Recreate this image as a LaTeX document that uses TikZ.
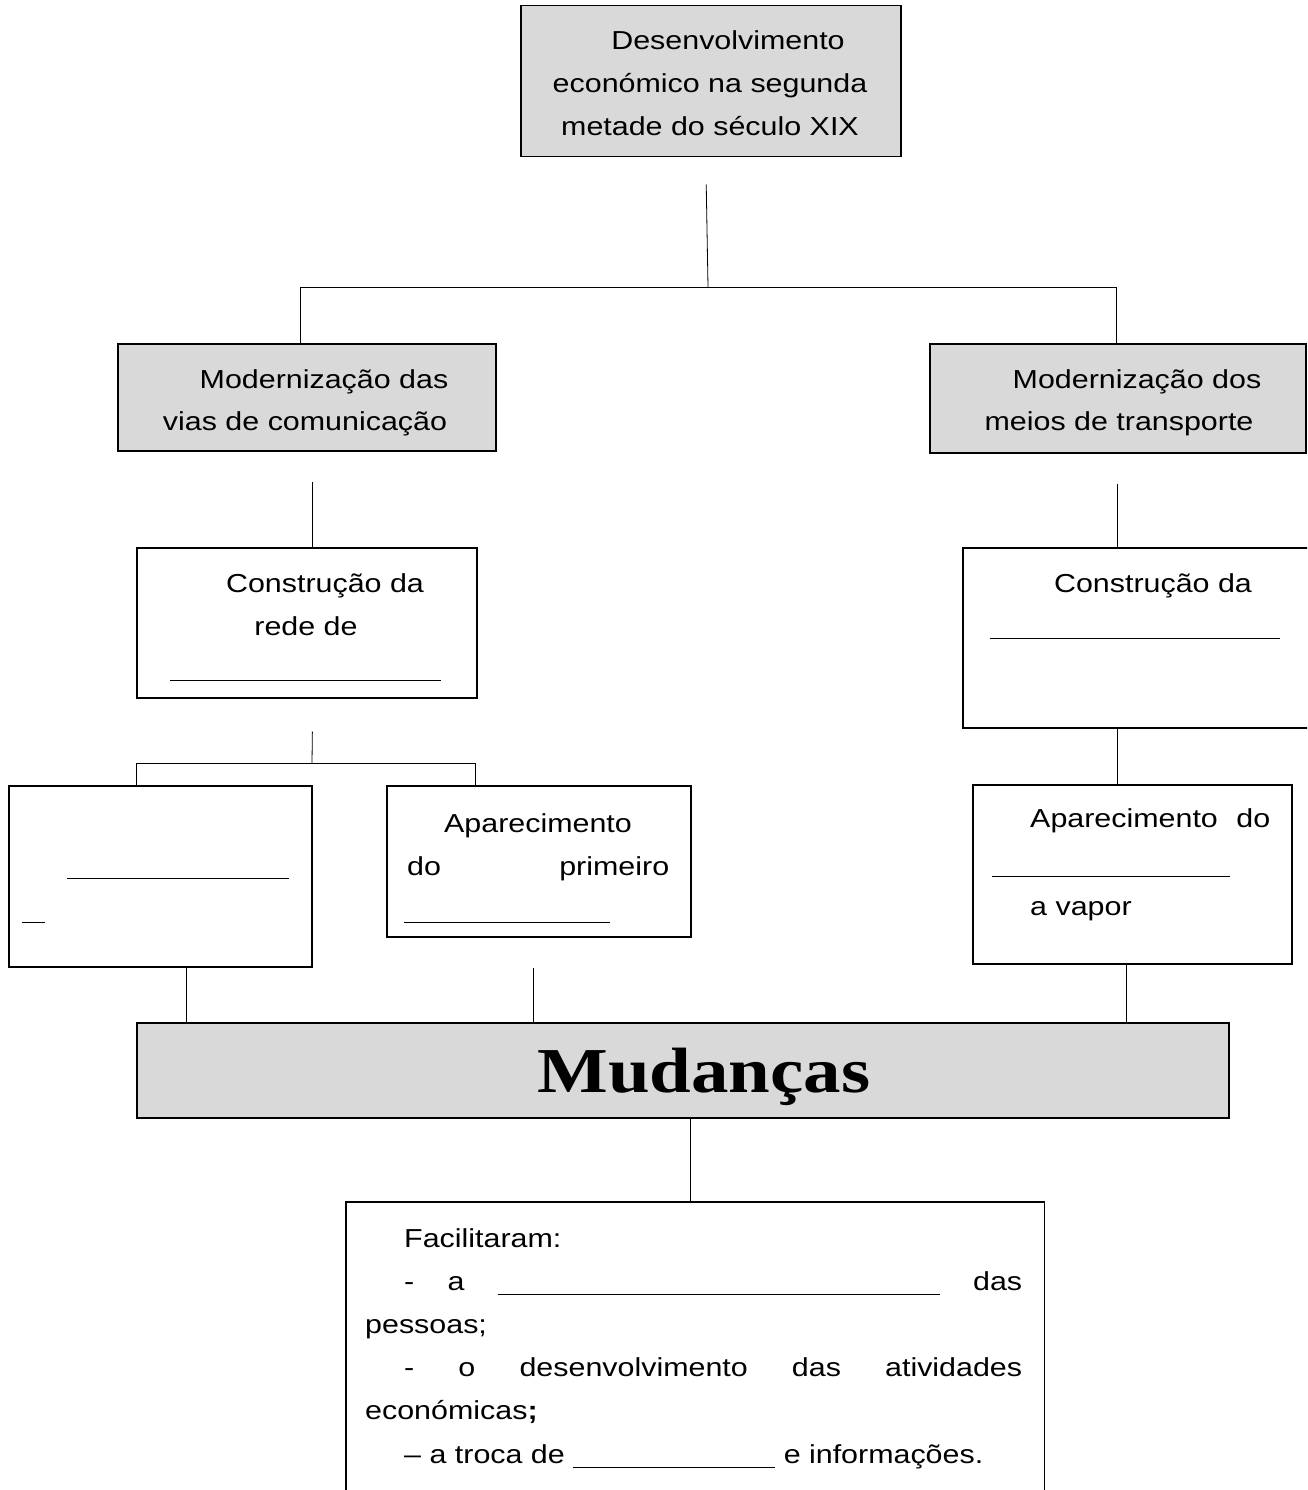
\documentclass[tikz,border=0pt]{standalone}
\usepackage{fontspec}
\setmainfont[FakeStretch=1.17]{Liberation Sans}
\newfontfamily\bigserif[FakeStretch=1.17]{Liberation Serif}
\usetikzlibrary{positioning}

\definecolor{boxgray}{HTML}{D9D9D9}
\newcommand{\blank}[1]{\rule[-5pt]{#1}{1.3pt}}

\tikzset{
  box/.style={draw, line width=1.5pt, inner sep=0pt, anchor=north west},
  graybox/.style={box, fill=boxgray},
  link/.style={line width=0.8pt},
  txt/.style={inner sep=0pt, anchor=base, font=\fontsize{26pt}{42pt}\selectfont},
  txtl/.style={txt, anchor=base west},
}

\begin{document}
\begin{tikzpicture}[x=1pt,y=-1pt]
\useasboundingbox (0,0) rectangle (1307,1490);
\clip (0,0) rectangle (1307,1490);

% boxes
\node[graybox, minimum width=380pt, minimum height=151pt] (top) at (520,5) {};
\node[graybox, minimum width=378pt, minimum height=107pt] (vias) at (117,343) {};
\node[graybox, minimum width=376pt, minimum height=109pt] (meios) at (929,343) {};
\node[box, minimum width=340pt, minimum height=150pt] (rede) at (136,547) {};
\node[box, minimum width=360pt, minimum height=180pt] (ferro) at (962,547) {};
\node[box, minimum width=303pt, minimum height=181pt] (estradas) at (8,785) {};
\node[box, minimum width=304pt, minimum height=151pt] (comboio) at (386,785) {};
\node[box, minimum width=319pt, minimum height=179pt] (barco) at (972,784) {};
\node[graybox, minimum width=1092pt, minimum height=95pt] (mud) at (136,1022) {};
\node[inner sep=0pt, minimum width=698pt, minimum height=300pt, anchor=north west] (facil) at (346,1202) {};
\draw[line width=1.5pt] (facil.south west) -- (facil.north west) -- (facil.north east) -- (facil.south east);

% texts
\node[txt] (topa) at (728,50) {Desenvolvimento};
\node[txt] (topb) at (710,93) {económico na segunda};
\node[txt] (topc) at (710,136) {metade do século XIX};

\node[txt] (viasa) at (324,388) {Modernização das};
\node[txt] (viasb) at (305,430) {vias de comunicação};
\node[txt] (meiosa) at (1137,388) {Modernização dos};
\node[txt] (meiosb) at (1119,430) {meios de transporte};

\node[txt] (redea) at (325,592) {Construção da};
\node[txt] (redeb) at (306,635) {rede de};
\node[txtl] (redec) at (170,676) {\blank{271pt}};
\node[txt] (ferroa) at (1153,592) {Construção da};
\node[txtl] (ferrob) at (990,634) {\blank{290pt}};

\node[txtl] (estradasa) at (67,874) {\blank{222pt}};
\node[txtl] (estradasb) at (22,918) {\blank{23pt}};

\node[txt] (comboioa) at (538,832) {Aparecimento};
\node[txtl] (comboiob) at (407,875) {\makebox[262pt][s]{do primeiro}};
\node[txtl] (comboioc) at (404,918) {\blank{206pt}};

\node[txtl] (barcoa) at (1030,827) {\makebox[240pt][s]{Aparecimento do}};
\node[txtl] (barcob) at (992,872) {\blank{238pt}};
\node[txtl] (barcoc) at (1030,915) {a vapor};

\node[anchor=base, inner sep=0pt, font={\fontsize{64pt}{64pt}\bigserif\bfseries}] (mudtxt) at (704,1092) {Mudanças};

\node[txtl] (facila) at (404,1247) {Facilitaram:};
\node[txtl] (facilb) at (404,1290) {\makebox[618pt][s]{-\hfill a\hfill\blank{442pt}\hfill das}};
\node[txtl] (facilc) at (365,1333) {pessoas;};
\node[txtl] (facild) at (404,1376) {\makebox[618pt][s]{- o desenvolvimento das atividades}};
\node[txtl] (facile) at (365,1419) {económicas\textbf{;}};
\node[txtl] (facilf) at (404,1463) {– a troca de \blank{202pt} e informações.};

% connectors
\coordinate (jtop) at (708,287);
\coordinate (jleft) at (300,287);
\coordinate (jright) at (1116,287);
\draw[link, shorten <=27pt] ([xshift=-5pt]top.south) -- (jtop);
\draw[link] (jleft) -- (jright);
\draw[link] (jleft) -- (jleft |- vias.north);
\draw[link] (jright) -- (jright |- meios.north);

\draw[link, shorten <=30pt] ([xshift=6pt]vias.south) -- ([xshift=6pt]vias.south |- rede.north);
\draw[link, shorten <=30pt] (meios.south) -- (meios.south |- ferro.north);

\coordinate (jsplit) at (312,763);
\coordinate (jsl) at (136,763);
\coordinate (jsr) at (475,763);
\draw[link, shorten <=33pt] ([xshift=6pt]rede.south) -- (jsplit);
\draw[link] (jsl) -- (jsr);
\draw[link] (jsl) -- (jsl |- estradas.north);
\draw[link] (jsr) -- (jsr |- comboio.north);

\draw[link] (meios.south |- ferro.south) -- (meios.south |- barco.north);

\draw[link] ([xshift=26pt]estradas.south) -- ([xshift=26pt]estradas.south |- mud.north);
\draw[link, shorten <=30pt] ([xshift=-5pt]comboio.south) -- ([xshift=-5pt]comboio.south |- mud.north);
\draw[link] ([xshift=-6pt]barco.south) -- ([xshift=-6pt]barco.south |- mud.north);

\draw[link] ([xshift=-5pt]facil.north |- mud.south) -- ([xshift=-5pt]facil.north);
\end{tikzpicture}
\end{document}
